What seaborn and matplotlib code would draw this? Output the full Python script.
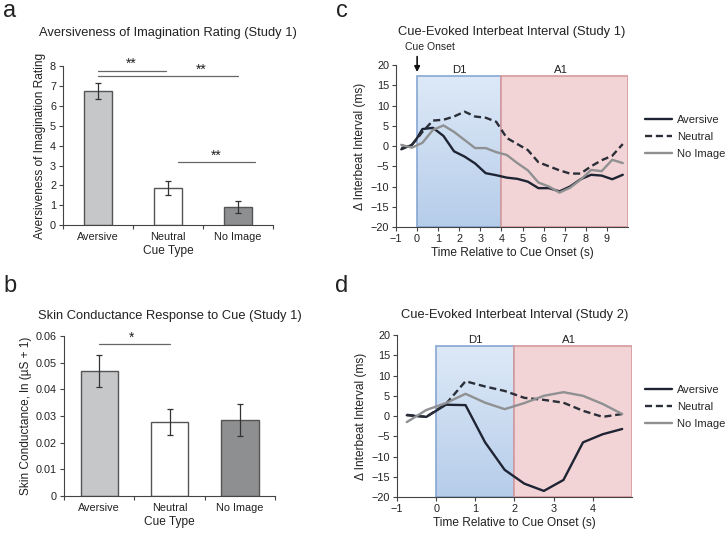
import numpy as np
import pandas as pd
import matplotlib
matplotlib.use("Agg")
import matplotlib.pyplot as plt
from matplotlib.colors import LinearSegmentedColormap
import seaborn as sns

sns.set_style("ticks")
plt.rcParams["font.family"] = ["Liberation Sans Narrow", "Liberation Sans", "DejaVu Sans"]
plt.rcParams["axes.unicode_minus"] = True

# ---- data ----
cue_types = ["Aversive", "Neutral", "No Image"]
bar_colors = ["#c6c7c9", "#ffffff", "#8e8f91"]

rating_mean = [6.75, 1.87, 0.90]
rating_err = [0.40, 0.33, 0.30]

scr_mean = [0.0467, 0.0277, 0.0285]
scr_err = [0.0060, 0.0050, 0.0060]

t1 = [-0.75, -0.25, 0.0, 0.25, 0.75, 1.25, 1.75, 2.25, 2.75, 3.25, 3.75, 4.25,
      4.75, 5.25, 5.75, 6.25, 6.75, 7.25, 7.75, 8.25, 8.75, 9.25, 9.75]
s1_aversive = [-0.8, 0.3, 2.0, 4.2, 4.5, 2.5, -1.3, -2.6, -4.3, -6.7, -7.2, -7.8,
               -8.1, -8.8, -10.4, -10.4, -11.2, -10.0, -8.2, -7.1, -7.3, -8.2, -7.1]
s1_neutral = [-0.5, 0.3, 1.8, 3.5, 6.3, 6.5, 7.3, 8.5, 7.3, 7.0, 6.0, 2.0,
              0.5, -1.0, -4.0, -5.0, -6.0, -6.8, -6.8, -5.0, -3.5, -2.4, 0.5]
s1_noimage = [0.3, -0.4, 0.2, 0.8, 4.0, 5.1, 3.5, 1.5, -0.5, -0.5, -1.5, -2.2,
              -4.2, -6.0, -9.0, -10.0, -11.5, -10.3, -8.3, -5.9, -6.2, -3.4, -4.2]

t2 = [-0.75, -0.25, 0.25, 0.75, 1.25, 1.75, 2.25, 2.75, 3.25, 3.75, 4.25, 4.75]
s2_aversive = [0.2, -0.2, 2.8, 2.7, -6.5, -13.3, -16.7, -18.5, -15.8, -6.5, -4.5, -3.2]
s2_neutral = [0.3, -0.2, 3.0, 8.6, 7.3, 6.2, 4.5, 4.0, 3.3, 1.3, -0.2, 0.5]
s2_noimage = [-1.5, 1.5, 3.2, 5.5, 3.3, 1.7, 3.2, 5.0, 5.9, 5.0, 3.0, 0.5]

line_colors = {"Aversive": "#1e2433", "Neutral": "#2a2e38", "No Image": "#8f9092"}
line_dashes = {"Aversive": "", "Neutral": (3, 1.6), "No Image": ""}

df1 = pd.DataFrame({
    "time": t1 * 3,
    "ibi": s1_aversive + s1_neutral + s1_noimage,
    "cue": ["Aversive"] * len(t1) + ["Neutral"] * len(t1) + ["No Image"] * len(t1),
})
df2 = pd.DataFrame({
    "time": t2 * 3,
    "ibi": s2_aversive + s2_neutral + s2_noimage,
    "cue": ["Aversive"] * len(t2) + ["Neutral"] * len(t2) + ["No Image"] * len(t2),
})

TICK = 7.8
LABEL = 8.6
TITLE = 9.3
spine_col = "#444444"
text_col = "#222222"

fig = plt.figure(figsize=(7.28, 5.36), dpi=100)


def style_axes(ax):
    sns.despine(ax=ax)
    for s in ["left", "bottom"]:
        ax.spines[s].set_color(spine_col)
        ax.spines[s].set_linewidth(0.8)
    ax.tick_params(colors=spine_col, labelcolor=text_col, labelsize=TICK,
                   length=3, width=0.8, pad=2)


def bar_panel(ax, means, errs, ymax, yticks, ylabel, title, width, pad):
    sns.barplot(x=cue_types, y=means, hue=cue_types, palette=bar_colors,
                edgecolor="#555555", linewidth=1, ax=ax, legend=False, width=width)
    ax.errorbar(range(3), means, yerr=errs, fmt="none", ecolor="#333333",
                elinewidth=0.9, capsize=2.5, capthick=0.9)
    ax.set_xlim(-0.5, 2.5)
    ax.set_ylim(0, ymax)
    ax.set_yticks(yticks)
    ax.set_xticks(range(3))
    ax.set_xticks([-0.5, 0.5, 1.5, 2.5], minor=True)
    ax.set_xlabel("Cue Type", fontsize=LABEL, labelpad=2, color=text_col)
    ax.set_ylabel(ylabel, fontsize=LABEL, labelpad=3, color=text_col)
    ax.set_title(title, fontsize=TITLE, pad=pad, color=text_col)
    style_axes(ax)
    ax.tick_params(axis="x", which="major", length=0, pad=5)
    ax.tick_params(axis="x", which="minor", length=3, width=0.8, color=spine_col)


def line_panel(ax, df, xmax, xticks, d1_end, title, pad, leg_y):
    top = 17.2
    grad = LinearSegmentedColormap.from_list("d1", ["#b6cdea", "#dde9f7"])
    ax.imshow(np.linspace(0, 1, 100).reshape(-1, 1), cmap=grad, aspect="auto",
              extent=[0, d1_end, -20, top], origin="lower", zorder=0)
    ax.add_patch(plt.Rectangle((0, -20), d1_end, top + 20, fill=False,
                               edgecolor="#86a7d2", linewidth=1.2, zorder=1))
    ax.add_patch(plt.Rectangle((d1_end, -20), xmax - d1_end, top + 20,
                               facecolor="#f3d4d6", edgecolor="#d69a9d",
                               linewidth=1.2, zorder=1))
    ax.text(d1_end / 2, 18.9, "D1", ha="center", va="center", fontsize=TICK + 0.4,
            color=text_col)
    ax.text((d1_end + xmax) / 2 - 0.1 * (xmax - d1_end) / 3, 18.9, "A1",
            ha="center", va="center", fontsize=TICK + 0.4, color=text_col)
    sns.lineplot(data=df, x="time", y="ibi", hue="cue", style="cue",
                 palette=line_colors, dashes=line_dashes, linewidth=1.7,
                 ax=ax, zorder=3)
    ax.set_xlim(-1, xmax)
    ax.set_ylim(-20, 20)
    ax.set_xticks(xticks)
    ax.set_yticks(range(-20, 21, 5))
    ax.set_xlabel("Time Relative to Cue Onset (s)", fontsize=LABEL, labelpad=2,
                  color=text_col)
    ax.set_ylabel("Δ Interbeat Interval (ms)", fontsize=LABEL, labelpad=3,
                  color=text_col)
    ax.set_title(title, fontsize=TITLE, pad=pad, color=text_col)
    style_axes(ax)
    sns.move_legend(ax, "center left", bbox_to_anchor=(645 / 728, leg_y),
                    bbox_transform=fig.transFigure, frameon=False,
                    title=None, fontsize=LABEL - 0.6, handlelength=2.4,
                    labelspacing=0.65, handletextpad=0.5, borderaxespad=0,
                    borderpad=0)


# panel a
ax_a = fig.add_axes([0.0865, 0.580, 0.2885, 0.2966])
bar_panel(ax_a, rating_mean, rating_err, 8, range(0, 9),
          "Aversiveness of Imagination Rating",
          "Aversiveness of Imagination Rating (Study 1)", 0.4, 22)
sig_kw = dict(color="#666666", linewidth=0.9, clip_on=False)
star_kw = dict(ha="center", va="bottom", fontsize=10, color=text_col)
ax_a.plot([0, 0.97], [7.78, 7.78], **sig_kw)
ax_a.plot([0, 2.0], [7.48, 7.48], **sig_kw)
ax_a.plot([1.14, 2.24], [3.2, 3.2], **sig_kw)
ax_a.text(0.48, 7.75, "**", **star_kw)
ax_a.text(1.47, 7.45, "**", **star_kw)
ax_a.text(1.69, 3.15, "**", **star_kw)

# panel b
ax_b = fig.add_axes([0.0879, 0.0746, 0.29, 0.2985])
bar_panel(ax_b, scr_mean, scr_err, 0.06, np.arange(0, 0.061, 0.01),
          "Skin Conductance, ln (µS + 1)",
          "Skin Conductance Response to Cue (Study 1)", 0.53, 12)
ax_b.set_yticklabels(["0", "0.01", "0.02", "0.03", "0.04", "0.05", "0.06"])
ax_b.plot([0, 1.0], [0.0569, 0.0569], **sig_kw)
ax_b.text(0.46, 0.0568, "*", **star_kw)

# panel c
ax_c = fig.add_axes([0.544, 0.5765, 0.3187, 0.302])
line_panel(ax_c, df1, 10, range(-1, 10), 4,
           "Cue-Evoked Interbeat Interval (Study 1)", 22, 1 - 137 / 536)
ax_c.annotate("", xy=(0, 17.6), xytext=(0, 22.8),
              arrowprops=dict(arrowstyle="-|>", color="#111111", lw=1.2,
                              mutation_scale=8), annotation_clip=False)
ax_c.text(0.6, 24.6, "Cue Onset", ha="center", va="center", fontsize=TICK - 0.3,
          clip_on=False, color=text_col)

# panel d
ax_d = fig.add_axes([0.5453, 0.0728, 0.3228, 0.302])
line_panel(ax_d, df2, 5, range(-1, 5), 2,
           "Cue-Evoked Interbeat Interval (Study 2)", 12, 1 - 407 / 536)

# panel letters
for letter, x, y in [("a", 3, 17), ("b", 3, 292), ("c", 336, 17), ("d", 335, 292)]:
    fig.text(x / 728, 1 - y / 536, letter, fontsize=17, ha="left", va="baseline",
             color=text_col)

fig.savefig("out.png", dpi=100)
